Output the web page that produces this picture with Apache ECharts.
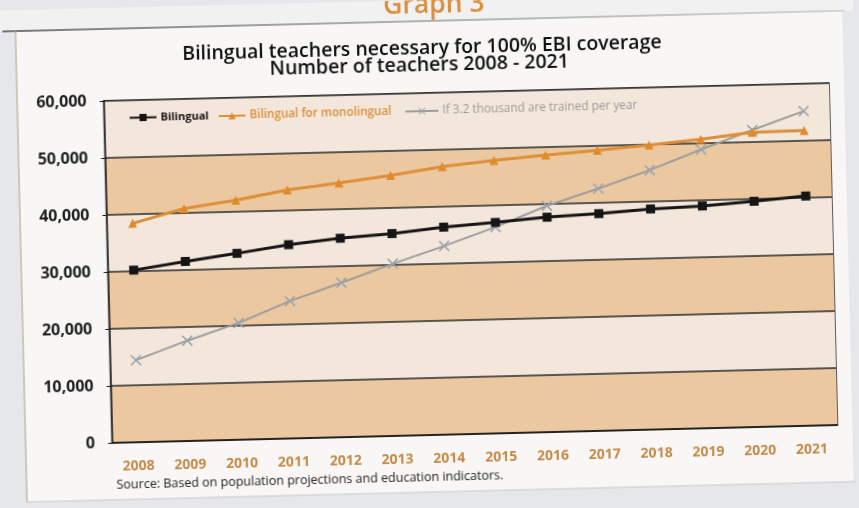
<!DOCTYPE html>
<html>
<head>
<meta charset="utf-8">
<script src="https://cdn.jsdelivr.net/npm/echarts@6/dist/echarts.min.js"></script>
<style>
  html, body { margin: 0; padding: 0; background: #e6e7eb; overflow: hidden; }
  #wrap { width: 859px; height: 508px; transform: rotate(-1.41deg); transform-origin: 429.5px 254px; }
  #chart { width: 859px; height: 508px; }
</style>
</head>
<body>
<div id="wrap"><div id="chart"></div></div>
<script>
// Years on the horizontal axis
const years = ['2008', '2009', '2010', '2011', '2012', '2013', '2014',
               '2015', '2016', '2017', '2018', '2019', '2020', '2021'];

// Number of bilingual teachers needed
const bilingual = [30200, 31500, 32700, 34000, 34900, 35500, 36400,
                   37000, 37700, 38100, 38700, 39000, 39600, 40300];

// Bilingual teachers needed for monolingual schools
const forMonolingual = [38400, 40800, 42000, 43600, 44600, 45700, 47000,
                        47900, 48600, 49200, 49900, 50700, 51700, 51800];

// Teachers available if 3.2 thousand are trained per year
const trained = [14400, 17600, 20500, 24100, 27100, 30200, 33100,
                 36200, 39700, 42500, 45500, 48900, 52100, 55200];

const seriesNames = ['Bilingual', 'Bilingual for monolingual', 'If 3.2 thousand are trained per year'];

const FONT = '"Open Sans", "Noto Sans", sans-serif';
const xMark = 'path://M1,0 L5,4 L9,0 L10,1 L6,5 L10,9 L9,10 L5,6 L1,10 L0,9 L4,5 L0,1 Z';

const chart = echarts.init(document.getElementById('chart'), null, { renderer: 'canvas' });

function legendFor(i, left, color, weight, size, iconWidth) {
  return {
    data: [seriesNames[i]],
    left: left, top: 105,
    itemWidth: iconWidth, itemHeight: 9,
    itemGap: 0,
    padding: 0,
    textStyle: { color: color, fontFamily: FONT, fontSize: size, fontWeight: weight, padding: [0, 0, 0, -1] },
    selectedMode: false
  };
}

chart.setOption({
  backgroundColor: '#e6e7eb',
  animation: false,
  graphic: [
    { type: 'rect', z: -10, shape: { x: 0, y: -20, width: 900, height: 41 }, style: { fill: '#f1f1f2' } },
    { type: 'rect', z: -10, shape: { x: 20, y: 21, width: 828, height: 471 }, style: { fill: '#f8f7f5' } },
    { type: 'line', z: -9, shape: { x1: 8, y1: 21, x2: 850, y2: 21 },
      style: { stroke: new echarts.graphic.LinearGradient(0, 0, 1, 0, [
        { offset: 0, color: '#4a4a4a' }, { offset: 0.35, color: '#8a8a8a' }, { offset: 1, color: '#c9c9c9' }]),
        lineWidth: 1.5 } },
    { type: 'line', z: -9, shape: { x1: 21, y1: 21, x2: 21, y2: 492 }, style: { stroke: '#c2b7a6', lineWidth: 1.5 } },
    { type: 'line', z: -9, shape: { x1: 20, y1: 492, x2: 850, y2: 492 }, style: { stroke: '#c9c9c9', lineWidth: 1 } },
    { type: 'text', x: 440, y: -8, style: { text: 'Graph 3', fill: '#d98f3e', font: '600 26.5px ' + FONT, textAlign: 'center' } },
    { type: 'text', x: 427, y: 48, style: { text: 'Bilingual teachers necessary for 100% EBI coverage',
      fill: '#111', font: '600 19.5px ' + FONT, textAlign: 'center', textVerticalAlign: 'middle' } },
    { type: 'text', x: 424, y: 65, style: { text: 'Number of teachers 2008 - 2021',
      fill: '#111', font: '600 19.5px ' + FONT, textAlign: 'center', textVerticalAlign: 'middle' } },
    { type: 'text', x: 111, y: 477, style: { text: 'Source: Based on population projections and education indicators.',
      fill: '#222', font: '12.5px ' + FONT, textVerticalAlign: 'middle' } }
  ],
  legend: [
    legendFor(0, 132, '#111', 700, 11, 27),
    legendFor(1, 221, '#dc8e38', 600, 11.7, 27),
    legendFor(2, 408, '#9a9a9a', 400, 11.8, 33)
  ],
  grid: { left: 107.5, right: 26, top: 93, bottom: 73, show: true, borderColor: '#2a2a2a', borderWidth: 1.5, backgroundColor: 'transparent' },
  xAxis: [
    {
      type: 'category', data: years, position: 'bottom', boundaryGap: true,
      axisLine: { lineStyle: { color: '#1a1a1a', width: 1.5 } },
      axisTick: { alignWithLabel: true, length: 4, lineStyle: { color: '#1a1a1a', width: 1.2 } },
      axisLabel: { color: '#c48a48', fontFamily: FONT, fontSize: 14, fontWeight: 700, margin: 17 }
    },
    {
      type: 'category', data: years, position: 'bottom', boundaryGap: true,
      axisLine: { show: false },
      axisTick: { alignWithLabel: true, inside: true, length: 4, lineStyle: { color: '#1a1a1a', width: 1.2 } },
      axisLabel: { show: false }
    },
    {
      type: 'category', data: years, position: 'bottom', boundaryGap: true,
      axisLine: { show: false },
      axisTick: { length: 3, lineStyle: { color: '#9a9a9a', width: 1 } },
      axisLabel: { show: false }
    }
  ],
  yAxis: {
    type: 'value', min: 0, max: 60000, interval: 10000,
    axisLine: { show: true, lineStyle: { color: '#1a1a1a', width: 1.5 } },
    axisTick: { show: true, length: 4, lineStyle: { color: '#1a1a1a' } },
    axisLabel: {
      color: '#1e1e1e', fontFamily: FONT, fontSize: 16, fontWeight: 700, margin: 17,
      formatter: v => v.toLocaleString('en-US')
    },
    splitLine: { show: true, lineStyle: { color: '#2a2a2a', width: 1.5 } },
    splitArea: { show: true, areaStyle: { color: ['#ebc8a0', '#f3e7dc'] } }
  },
  series: [
    {
      name: seriesNames[0], type: 'line', data: bilingual, z: 4,
      symbol: 'rect', symbolSize: 9,
      lineStyle: { color: '#151515', width: 3 },
      itemStyle: { color: '#151515' }
    },
    {
      name: seriesNames[1], type: 'line', data: forMonolingual, z: 3,
      symbol: 'triangle', symbolSize: 9,
      lineStyle: { color: '#dc8e38', width: 3 },
      itemStyle: { color: '#e08a2c' }
    },
    {
      name: seriesNames[2], type: 'line', data: trained, z: 2,
      symbol: xMark, symbolSize: 11,
      lineStyle: { color: '#9c9c9c', width: 2 },
      itemStyle: { color: '#9aa3ad' }
    }
  ]
});
</script>
</body>
</html>
